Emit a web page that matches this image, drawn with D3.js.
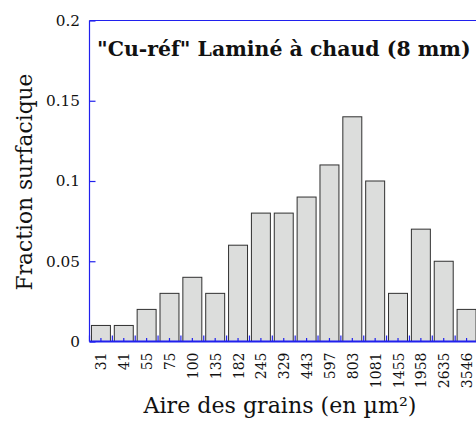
<!DOCTYPE html>
<html><head><meta charset="utf-8">
<script src="https://cdn.jsdelivr.net/npm/d3@7"></script>
<style>body{margin:0;background:#fff}svg{display:block}</style>
</head><body>
<svg id="c" width="476" height="431"></svg>
<script>
const categories = ["31","41","55","75","100","135","182","245","329","443","597","803","1081","1455","1958","2635","3546"];
const values = [0.01,0.01,0.02,0.03,0.04,0.03,0.06,0.08,0.08,0.09,0.11,0.14,0.10,0.03,0.07,0.05,0.02];
const yTicks = [0,0.05,0.1,0.15,0.2];
const yTickLabels = ["0","0.05","0.1","0.15","0.2"];
const title = "\"Cu-réf\" Laminé à chaud (8 mm)";
const xTitle = "Aire des grains (en µm²)";
const yTitle = "Fraction surfacique";

const FONT = "'DejaVu Serif', 'Liberation Serif', serif";
const svg = d3.select("#c");
const L = 89.5, R = 478, T = 20.5, B = 341.5;
const x = d3.scaleBand().domain(categories).range([L, R]).paddingInner(0.17).paddingOuter(0.085);
const y = d3.scaleLinear().domain([0, 0.2]).range([B, T]);
const blue = "#2020ee";

function fit(sel, target) {
  const n = sel.node();
  const fs = +sel.attr("font-size");
  const w = n.getComputedTextLength();
  if (w > 0) sel.attr("font-size", (fs * target / w).toFixed(2));
  return sel;
}

// bars
svg.append("g").selectAll("rect").data(values).join("rect")
  .attr("x", (d,i) => x(categories[i]))
  .attr("y", d => y(d))
  .attr("width", x.bandwidth())
  .attr("height", d => y(0) - y(d))
  .attr("fill", "#dcdddc")
  .attr("stroke", "#303030")
  .attr("stroke-width", 1);

// frame
svg.append("line").attr("x1", L).attr("x2", R).attr("y1", T).attr("y2", T).attr("stroke", blue).attr("stroke-width", 1.2);
svg.append("line").attr("x1", L).attr("x2", L).attr("y1", T).attr("y2", B).attr("stroke", blue).attr("stroke-width", 1.2);

// y axis
const yAxis = d3.axisLeft(y).tickValues(yTicks).tickSize(-6).tickPadding(16)
  .tickFormat((d,i) => yTickLabels[i]);
const gy = svg.append("g").attr("transform", `translate(${L},0)`).call(yAxis);
gy.select(".domain").remove();
gy.selectAll(".tick line").attr("stroke", blue).attr("stroke-width", 1.2);
gy.selectAll(".tick text").attr("font-family", FONT).attr("font-size", 15).attr("fill", "#111").attr("x", -9.5);
{
  const t = gy.selectAll(".tick text").filter((d,i) => yTickLabels[i] === "0.15");
  const w = t.node().getComputedTextLength();
  const fs = 15 * 34 / w;
  gy.selectAll(".tick text").attr("font-size", fs.toFixed(2));
}

// x axis
const gx = svg.append("g").attr("transform", `translate(0,${B})`);
gx.append("line").attr("x1", L).attr("x2", R).attr("y1", 0).attr("y2", 0).attr("stroke", blue).attr("stroke-width", 2);
const step = x.step();
const bounds = d3.range(categories.length).map(i => L + i * step);
gx.selectAll("line.maj").data(bounds).join("line").attr("class","maj")
  .attr("x1", d => d).attr("x2", d => d).attr("y1", 0).attr("y2", -6)
  .attr("stroke", blue).attr("stroke-width", 1.2);
gx.selectAll("line.min").data(categories).join("line").attr("class","min")
  .attr("x1", d => x(d) + x.bandwidth()/2).attr("x2", d => x(d) + x.bandwidth()/2)
  .attr("y1", 0).attr("y2", -3.5)
  .attr("stroke", blue).attr("stroke-width", 1.2);
gx.selectAll("text").data(categories).join("text")
  .attr("transform", d => `translate(${x(d) + x.bandwidth()/2 + 5.5},11) rotate(-90)`)
  .attr("text-anchor", "end")
  .attr("font-family", FONT).attr("font-size", 14).attr("fill", "#111")
  .text(d => d);

// titles
fit(svg.append("text").attr("x", 97).attr("y", 56).attr("font-family", FONT).attr("font-size", 18)
  .attr("font-weight", "bold").attr("fill", "#111").text(title), 374);
fit(svg.append("text").attr("transform", "translate(32,182) rotate(-90)").attr("text-anchor", "middle")
  .attr("font-family", FONT).attr("font-size", 20).attr("fill", "#111").text(yTitle), 217);
fit(svg.append("text").attr("x", 280).attr("y", 413).attr("text-anchor", "middle")
  .attr("font-family", FONT).attr("font-size", 20).attr("fill", "#111").text(xTitle), 273);
</script>
</body></html>
